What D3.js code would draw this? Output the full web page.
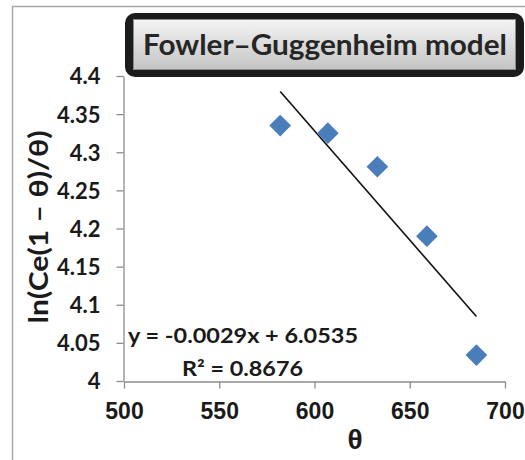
<!DOCTYPE html>
<html><head><meta charset="utf-8">
<script src="https://cdn.jsdelivr.net/npm/d3@7"></script>
<style>body{margin:0;background:#fff}svg{display:block}</style>
</head><body>
<svg id="c" width="525" height="460"></svg>
<script>
const thetaValues = [582, 607, 633, 659, 685];
const lnValues = [4.335, 4.325, 4.281, 4.19, 4.034];
const xTicks = [500, 550, 600, 650, 700];
const yTicks = [4, 4.05, 4.1, 4.15, 4.2, 4.25, 4.3, 4.35, 4.4];
const titleText = "Fowler–Guggenheim model";
const eqText = "y = -0.0029x + 6.0535";
const r2Text = "R² = 0.8676";
const xLabel = "θ";
const yLabel = "ln(Ce(1 – θ)/θ)";

const svg = d3.select("#c");
const x = d3.scaleLinear().domain([500, 700]).range([124, 505]);
const y = d3.scaleLinear().domain([4, 4.4]).range([381, 76]);
const axisColor = "#8c8c8c";
const calibri = "Lato, 'Open Sans', sans-serif";

// outer frame
svg.append("rect").attr("x", 12.5).attr("y", 6.5).attr("width", 700).attr("height", 600)
  .attr("fill", "none").attr("stroke", "#a6a6a6").attr("stroke-width", 1.5);

// y axis
const ya = svg.append("g").attr("transform", "translate(123.5,0)")
  .call(d3.axisLeft(y).tickValues(yTicks).tickSize(7).tickSizeOuter(0).tickPadding(16)
    .tickFormat(d => String(+d.toFixed(2))));
ya.select(".domain").attr("stroke", axisColor).attr("stroke-width", 1.3);
ya.selectAll(".tick line").attr("stroke", axisColor).attr("stroke-width", 1.3);
ya.selectAll(".tick text").attr("font-family", calibri).attr("font-weight", "bold")
  .attr("font-size", 22).attr("fill", "#1a1a1a").attr("dy", "0.36em");

// x axis
const xa = svg.append("g").attr("transform", "translate(0,381.5)")
  .call(d3.axisBottom(x).tickValues(xTicks).tickSize(7).tickSizeOuter(0).tickPadding(14)
    .tickFormat(d3.format("d")));
xa.select(".domain").attr("stroke", axisColor).attr("stroke-width", 1.3);
xa.selectAll(".tick line").attr("stroke", axisColor).attr("stroke-width", 1.3);
xa.selectAll(".tick text").attr("font-family", "'Liberation Sans', Arial, sans-serif")
  .attr("font-weight", "bold").attr("font-size", 23).attr("fill", "#1a1a1a").attr("dy", "0.71em");

// trendline (least squares fit of the data)
const n = thetaValues.length;
const mx = d3.mean(thetaValues), my = d3.mean(lnValues);
let sxy = 0, sxx = 0;
for (let i = 0; i < n; i++) { sxy += (thetaValues[i]-mx)*(lnValues[i]-my); sxx += (thetaValues[i]-mx)**2; }
const slope = sxy / sxx, icpt = my - slope * mx;
const x0 = d3.min(thetaValues), x1 = d3.max(thetaValues);
svg.append("line")
  .attr("x1", x(x0)).attr("y1", y(slope*x0+icpt))
  .attr("x2", x(x1)).attr("y2", y(slope*x1+icpt))
  .attr("stroke", "#111").attr("stroke-width", 1.6);

// points
const sym = d3.symbol().type(d3.symbolDiamond2).size(300);
svg.append("g").selectAll("path").data(thetaValues.map((t,i)=>[t, lnValues[i]])).join("path")
  .attr("d", sym)
  .attr("transform", d => `translate(${x(d[0])},${y(d[1])})`)
  .attr("fill", "#4a7ebb");

// equation
svg.append("text").attr("x", 128).attr("y", 343).text(eqText)
  .attr("font-family", calibri).attr("font-weight", "bold").attr("font-size", 21)
  .attr("textLength", 230).attr("lengthAdjust", "spacingAndGlyphs").attr("fill", "#1a1a1a");
svg.append("text").attr("x", 182).attr("y", 376).text(r2Text)
  .attr("font-family", calibri).attr("font-weight", "bold").attr("font-size", 21)
  .attr("textLength", 121).attr("lengthAdjust", "spacingAndGlyphs").attr("fill", "#1a1a1a");

// axis titles
svg.append("text").attr("x", 355).attr("y", 449).attr("text-anchor", "middle").text(xLabel)
  .attr("font-family", "'Liberation Sans', Arial, sans-serif").attr("font-weight", "bold")
  .attr("font-size", 28).attr("fill", "#1a1a1a");
svg.append("text").attr("transform", "translate(48,227) rotate(-90)").attr("text-anchor", "middle")
  .text(yLabel).attr("font-family", calibri).attr("font-weight", "bold").attr("font-size", 27)
  .attr("textLength", 193).attr("lengthAdjust", "spacingAndGlyphs").attr("fill", "#1a1a1a");

// title box
const defs = svg.append("defs");
const g = defs.append("linearGradient").attr("id", "tg").attr("x1", 0).attr("y1", 0).attr("x2", 0).attr("y2", 1);
g.append("stop").attr("offset", "0%").attr("stop-color", "#f4f4f4");
g.append("stop").attr("offset", "100%").attr("stop-color", "#c4c4c4");
svg.append("rect").attr("x", 125).attr("y", 13).attr("width", 399).attr("height", 64).attr("rx", 10)
  .attr("fill", "#1c1c1c");
svg.append("rect").attr("x", 133.5).attr("y", 19.5).attr("width", 382).attr("height", 50)
  .attr("fill", "url(#tg)").attr("stroke", "#8a8a8a").attr("stroke-width", 1);
svg.append("text").attr("x", 143).attr("y", 55).text(titleText)
  .attr("font-family", calibri).attr("font-weight", "bold").attr("font-size", 29)
  .attr("textLength", 364).attr("lengthAdjust", "spacingAndGlyphs").attr("fill", "#262626");
</script>
</body></html>
